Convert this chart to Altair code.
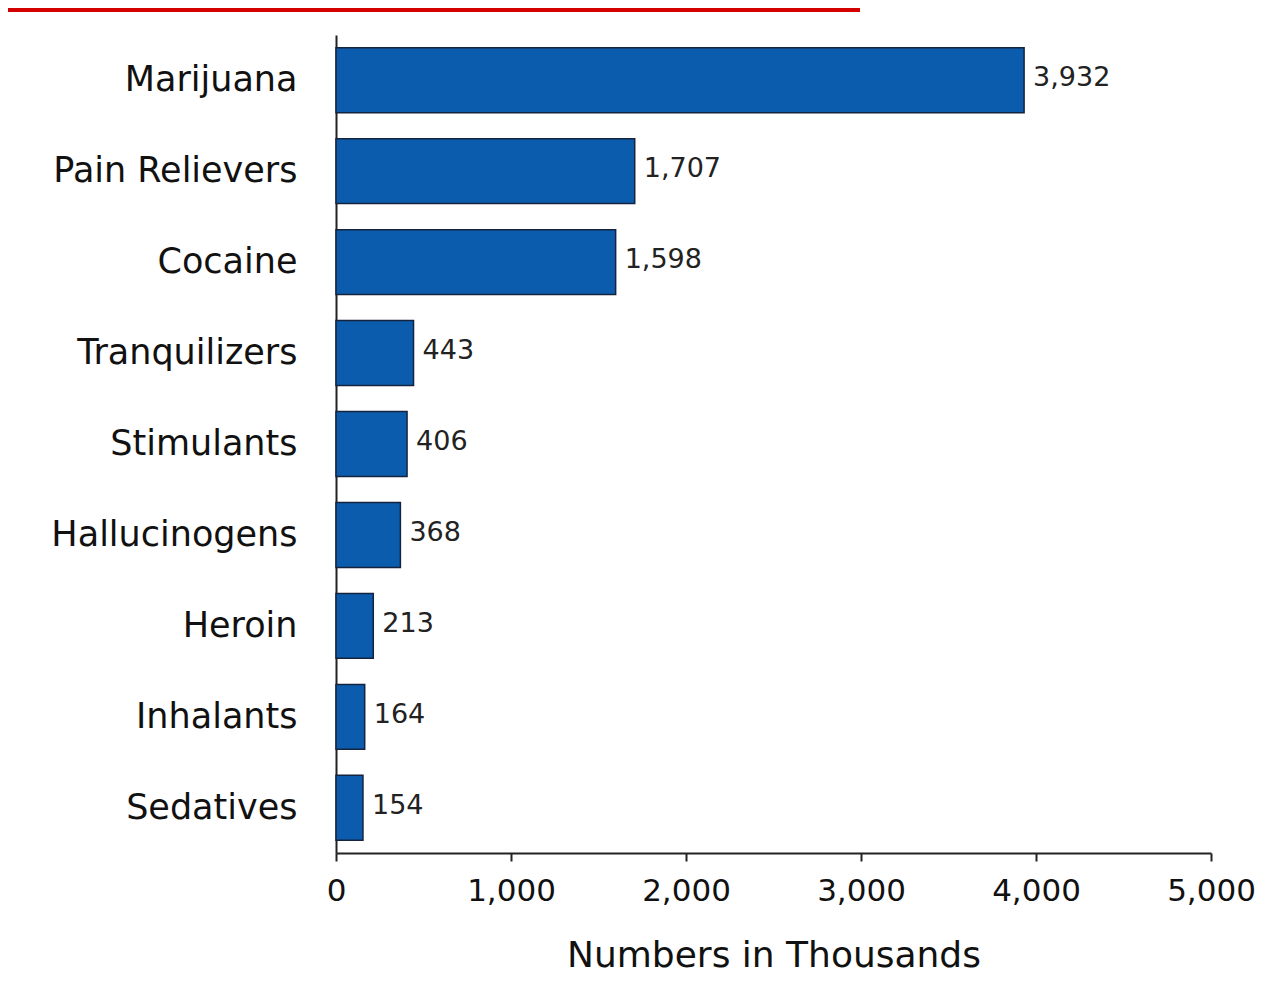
import altair as alt
import pandas as pd

drugs = ["Marijuana", "Pain Relievers", "Cocaine", "Tranquilizers", "Stimulants",
         "Hallucinogens", "Heroin", "Inhalants", "Sedatives"]
values = [3932, 1707, 1598, 443, 406, 368, 213, 164, 154]
x_ticks = [0, 1000, 2000, 3000, 4000, 5000]

df = pd.DataFrame({"drug": drugs, "value": values})
df["label"] = [f"{v:,}" for v in values]

FONT = "DejaVu Sans"

y_enc = alt.Y("drug:N", sort=drugs, title=None,
              scale=alt.Scale(paddingInner=0.286, paddingOuter=0.14),
              axis=alt.Axis(labelFont=FONT, labelFontSize=35, labelColor="#111111",
                            labelPadding=39, ticks=False, domainColor="#222222",
                            domainWidth=2, labelLimit=400))
x_enc = alt.X("value:Q", title="Numbers in Thousands",
              scale=alt.Scale(domain=[0, 5000], nice=False),
              axis=alt.Axis(values=x_ticks, format=",.0f", grid=False,
                            labelFlush=False, labelOverlap=False,
                            labelFont=FONT, labelFontSize=31, labelColor="#111111",
                            labelPadding=15, tickSize=8, tickColor="#222222", tickWidth=2,
                            domainColor="#222222", domainWidth=2,
                            titleFont=FONT, titleFontSize=36, titleFontWeight="normal",
                            titleColor="#111111", titlePadding=32))

bars = alt.Chart(df).mark_bar(color="#0B5CAD", stroke="#14233f", strokeWidth=1.5).encode(
    x=x_enc, y=y_enc)

labels = alt.Chart(df).mark_text(align="left", baseline="middle", dx=9, dy=-2,
                                 font=FONT, fontSize=27, color="#222222").encode(
    x="value:Q", y=alt.Y("drug:N", sort=drugs), text="label:N")

red_top = alt.Chart(df).mark_rule(color="#d40000", strokeWidth=4).encode(
    x=alt.value(-328), x2=alt.value(524), y=alt.value(-25))

chart = alt.layer(bars, labels, red_top).properties(
    width=875, height=818,
    background="white",
    autosize=alt.AutoSizeParams(type="none"),
    padding={"left": 328, "top": 27, "right": 60, "bottom": 128},
).configure_view(strokeWidth=0, stroke=None)

chart.save("out.html", embed_options={"renderer": "svg", "actions": False})
